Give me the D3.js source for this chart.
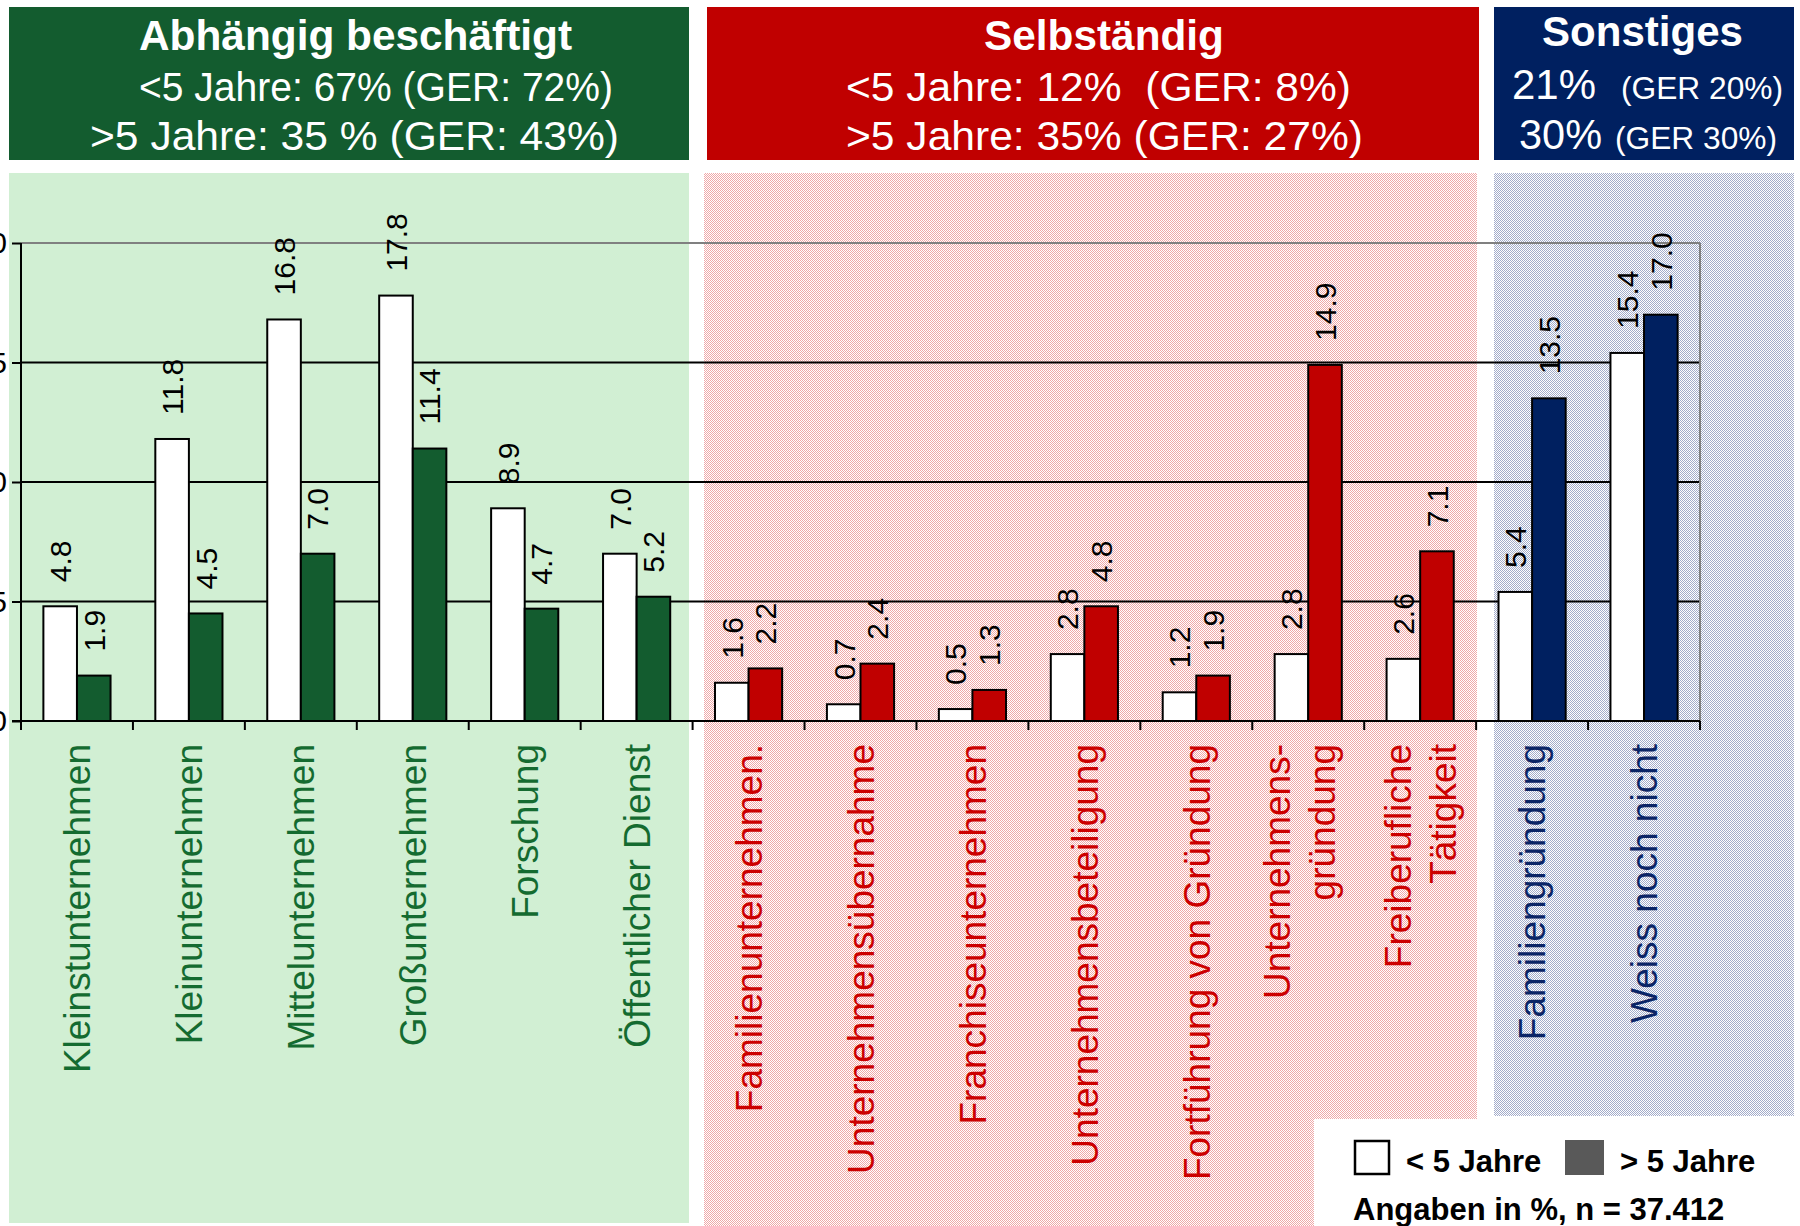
<!DOCTYPE html>
<html>
<head>
<meta charset="utf-8">
<script src="https://cdn.jsdelivr.net/npm/d3@7"></script>
<style>
  html, body { margin: 0; padding: 0; background: #fff; }
  svg { display: block; font-family: "Liberation Sans", Arial, sans-serif; }
  text { white-space: pre; }
</style>
</head>
<body>
<svg id="chart" width="1800" height="1226"></svg>
<script>
// ---------- DATA ----------
const categories = [
  ["Kleinstunternehmen"], ["Kleinunternehmen"], ["Mittelunternehmen"], ["Großunternehmen"],
  ["Forschung"], ["Öffentlicher Dienst"],
  ["Familienunternehmen."], ["Unternehmensübernahme"], ["Franchiseunternehmen"],
  ["Unternehmensbeteiligung"], ["Fortführung von Gründung"], ["Unternehmens-", "gründung"],
  ["Freiberufliche", "Tätigkeit"],
  ["Familiengründung"], ["Weiss noch nicht"]
];
const categoryGroup = [0,0,0,0,0,0,1,1,1,1,1,1,1,2,2];
const under5 = [4.8, 11.8, 16.8, 17.8, 8.9, 7.0, 1.6, 0.7, 0.5, 2.8, 1.2, 2.8, 2.6, 5.4, 15.4];
const over5  = [1.9, 4.5, 7.0, 11.4, 4.7, 5.2, 2.2, 2.4, 1.3, 4.8, 1.9, 14.9, 7.1, 13.5, 17.0];
const yTicks = [0, 5, 10, 15, 20];
const groupTitles = ["Abhängig beschäftigt", "Selbständig", "Sonstiges"];
const groupLine2 = ["<5 Jahre: 67% (GER: 72%)", "<5 Jahre: 12%  (GER: 8%)", ["21%", "(GER 20%)"]];
const groupLine3 = [">5 Jahre: 35 % (GER: 43%)", ">5 Jahre: 35% (GER: 27%)", ["30%", "(GER 30%)"]];
const legendLabels = ["< 5 Jahre", "> 5 Jahre"];
const noteText = "Angaben in %, n = 37.412";

// ---------- STYLE ----------
const groupDark = ["#135c2f", "#c00000", "#002060"];
const groupLabel = ["#146b30", "#cc0000", "#0b2566"];
const headerBox = [{x0: 9, x1: 689}, {x0: 707, x1: 1479}, {x0: 1494, x1: 1794}];
const font = '"Liberation Sans", Arial, sans-serif';

const svg = d3.select("#chart");
const defs = svg.append("defs");
function dots(id, c) {
  const p = defs.append("pattern").attr("id", id).attr("width", 2).attr("height", 2)
    .attr("patternUnits", "userSpaceOnUse");
  p.append("rect").attr("width", 2).attr("height", 2).attr("fill", "#fff");
  p.append("rect").attr("x", 0).attr("y", 0).attr("width", 1).attr("height", 1).attr("fill", c);
  p.append("rect").attr("x", 1).attr("y", 1).attr("width", 1).attr("height", 1).attr("fill", c);
}
dots("pinkDots", "#f0a8a8");
dots("blueDots", "#a3acca");

// panel backgrounds
svg.append("rect").attr("x", 9).attr("y", 173).attr("width", 680).attr("height", 1050).attr("fill", "#d1efd3");
svg.append("rect").attr("x", 704).attr("y", 173).attr("width", 773).attr("height", 1053).attr("fill", "url(#pinkDots)");
svg.append("rect").attr("x", 1494).attr("y", 173).attr("width", 300).attr("height", 943).attr("fill", "url(#blueDots)");

// headers
headerBox.forEach((b, i) => {
  svg.append("rect").attr("x", b.x0).attr("y", 7).attr("width", b.x1 - b.x0).attr("height", 153)
    .attr("fill", groupDark[i]);
});
function hText(x, y, t, size, weight, len) {
  const el = svg.append("text").attr("x", x).attr("y", y)
    .attr("fill", "#fff").attr("font-size", size).attr("font-weight", weight || "normal")
    .attr("text-anchor", "start").text(t);
  if (len) el.attr("textLength", len).attr("lengthAdjust", "spacingAndGlyphs");
  return el;
}
// green
hText(139, 50, groupTitles[0], 42, "bold", 433);
hText(139, 101, groupLine2[0], 40, "normal", 474);
hText(90, 150, groupLine3[0], 40, "normal", 529);
// red
hText(984, 50, groupTitles[1], 42, "bold", 240);
hText(846, 101, groupLine2[1], 40, "normal", 505);
hText(846, 150, groupLine3[1], 40, "normal", 517);
// blue
hText(1542, 46, groupTitles[2], 42, "bold", 201);
hText(1512, 99, groupLine2[2][0], 42, "normal", 84);
hText(1621, 99, groupLine2[2][1], 31, "normal", 162);
hText(1519, 149, groupLine3[2][0], 42, "normal", 83);
hText(1615, 149, groupLine3[2][1], 31, "normal", 162);

// ---------- PLOT ----------
const plot = {left: 21, right: 1700, top: 243, bottom: 721};
const x = d3.scaleBand().domain(d3.range(categories.length)).range([plot.left, plot.right]).padding(0);
const y = d3.scaleLinear().domain([0, 20]).range([plot.bottom, plot.top]);
const bw = x.bandwidth() * 0.3;
const g = svg.append("g");

// gridlines
g.selectAll("line.grid").data(yTicks.filter(t => t > 0)).join("line")
  .attr("x1", plot.left).attr("x2", plot.right)
  .attr("y1", d => y(d)).attr("y2", d => y(d))
  .attr("stroke", d => d === 20 ? "#808080" : "#000").attr("stroke-width", 2);
// right border
g.append("line").attr("x1", plot.right).attr("x2", plot.right).attr("y1", y(20)).attr("y2", y(0))
  .attr("stroke", "#808080").attr("stroke-width", 2);

// bars
const idx = d3.range(categories.length);
const cx = i => x(i) + x.bandwidth() / 2;
g.selectAll("rect.u5").data(idx).join("rect")
  .attr("x", i => cx(i) - bw).attr("y", i => y(under5[i]))
  .attr("width", bw).attr("height", i => y(0) - y(under5[i]))
  .attr("fill", "#fff").attr("stroke", "#000").attr("stroke-width", 2);
g.selectAll("rect.o5").data(idx).join("rect")
  .attr("x", i => cx(i)).attr("y", i => y(over5[i]))
  .attr("width", bw).attr("height", i => y(0) - y(over5[i]))
  .attr("fill", i => groupDark[categoryGroup[i]]).attr("stroke", "#000").attr("stroke-width", 2);

// value labels
function valueLabel(v, xc) {
  g.append("text")
    .attr("transform", `translate(${xc},${y(v) - 24}) rotate(-90)`)
    .attr("dy", "0.36em").attr("text-anchor", "start")
    .attr("font-size", 30).attr("fill", "#000").text(v.toFixed(1));
}
idx.forEach(i => {
  valueLabel(under5[i], cx(i) - bw / 2);
  valueLabel(over5[i], cx(i) + bw / 2);
});

// axes
const yAxis = d3.axisLeft(y).tickValues(yTicks).tickSize(9).tickFormat(d3.format("d"));
const ya = g.append("g").attr("transform", `translate(${plot.left},0)`).call(yAxis);
ya.select(".domain").attr("stroke", "#000").attr("stroke-width", 2).attr("d", `M0,${plot.top}V${plot.bottom}`);
ya.selectAll(".tick line").attr("stroke", "#000").attr("stroke-width", 2);
ya.selectAll(".tick text").attr("x", -14).attr("font-size", 30).attr("font-family", font).attr("fill", "#000");

const xEdges = d3.range(categories.length + 1).map(i => plot.left + i * x.bandwidth());
g.append("line").attr("x1", plot.left - 9).attr("x2", plot.right).attr("y1", plot.bottom).attr("y2", plot.bottom)
  .attr("stroke", "#000").attr("stroke-width", 2);
g.selectAll("line.xt").data(xEdges).join("line")
  .attr("x1", d => d).attr("x2", d => d).attr("y1", plot.bottom).attr("y2", plot.bottom + 9)
  .attr("stroke", "#000").attr("stroke-width", 2);

// category labels
idx.forEach(i => {
  const lines = categories[i];
  const n = lines.length;
  lines.forEach((t, k) => {
    const off = (k - (n - 1) / 2) * 45 + (n > 1 && i === 11 ? -9 : 0);
    g.append("text")
      .attr("transform", `translate(${cx(i) + off},${plot.bottom + 23}) rotate(-90)`)
      .attr("dy", "0.36em").attr("text-anchor", "end")
      .attr("font-size", 37).attr("fill", groupLabel[categoryGroup[i]]).text(t);
  });
});

// ---------- LEGEND ----------
svg.append("rect").attr("x", 1314).attr("y", 1119).attr("width", 486).attr("height", 107).attr("fill", "#fff");
svg.append("rect").attr("x", 1355).attr("y", 1141).attr("width", 34).attr("height", 33)
  .attr("fill", "#fff").attr("stroke", "#000").attr("stroke-width", 2.5);
svg.append("text").attr("x", 1406).attr("y", 1172).attr("font-size", 31).attr("font-weight", "bold")
  .attr("fill", "#000").text(legendLabels[0]);
svg.append("rect").attr("x", 1565).attr("y", 1140).attr("width", 39).attr("height", 35).attr("fill", "#595959");
svg.append("text").attr("x", 1620).attr("y", 1172).attr("font-size", 31).attr("font-weight", "bold")
  .attr("fill", "#000").text(legendLabels[1]);
svg.append("text").attr("x", 1353).attr("y", 1220).attr("font-size", 31).attr("font-weight", "bold")
  .attr("fill", "#000").text(noteText);
</script>
</body>
</html>
